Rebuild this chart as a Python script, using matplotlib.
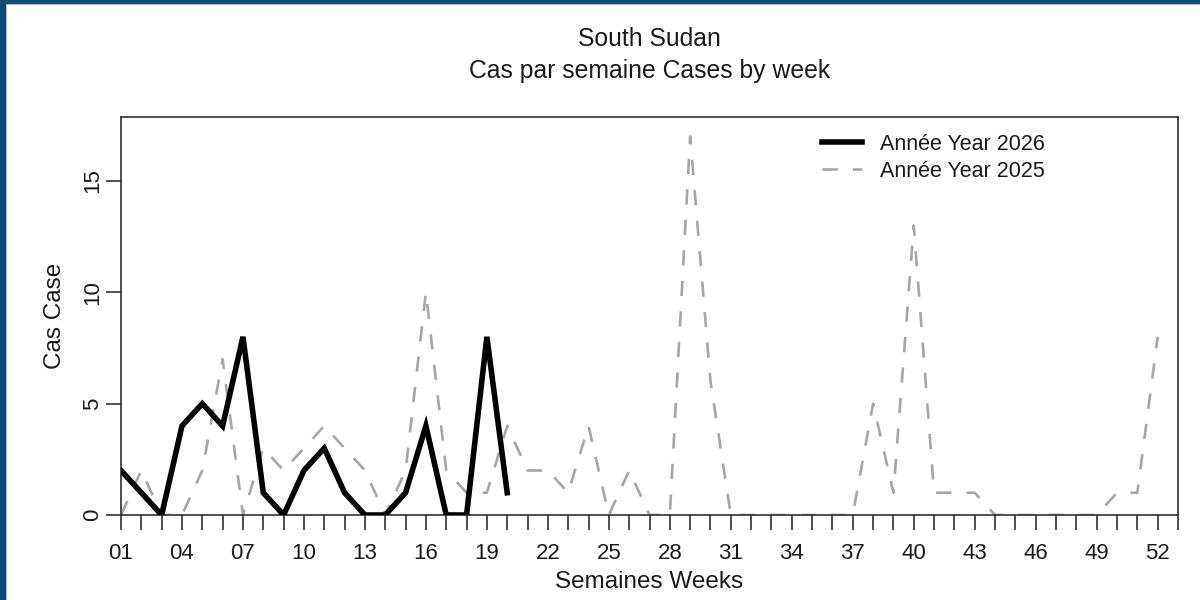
import matplotlib
matplotlib.use("Agg")
import matplotlib.pyplot as plt
from matplotlib.patches import Rectangle

plt.rcParams['font.family'] = ['Liberation Sans', 'DejaVu Sans']
plt.rcParams['lines.scale_dashes'] = False

# ---- data ----
weeks = list(range(1, 53))
weeks_2026 = list(range(1, 21))
cases_2026 = [2, 1, 0, 4, 5, 4, 8, 1, 0, 2, 3, 1, 0, 0, 1, 4, 0, 0, 8, 1]
cases_2025 = [0, 2, 0, 0, 2, 7, 0, 3, 2, 3, 4, 3, 2, 0, 2, 10, 2, 1, 1, 4,
              2, 2, 1, 4, 0, 2, 0, 0, 17, 6, 0, 0, 0, 0, 0, 0, 0, 5, 1, 13,
              1, 1, 1, 0, 0, 0, 0, 0, 0, 1, 1, 8]
xtick_weeks = list(range(1, 54))
xlabel_weeks = list(range(1, 53, 3))
ytick_vals = [0, 5, 10, 15]

title_1 = "South Sudan"
title_2 = "Cas par semaine Cases by week"
label_2026 = "Année Year 2026"
label_2025 = "Année Year 2025"
xlab = "Semaines Weeks"
ylab = "Cas Case"

W, H = 1200, 600
fig = plt.figure(figsize=(12, 6), dpi=100)
fig.patch.set_facecolor('white')

L, R, T, B = 121, 1178, 117, 515
ax = fig.add_axes([L / W, 1 - B / H, (R - L) / W, (B - T) / H])

axis_col = '#303030'
ax.plot(weeks, cases_2025, color='#a6a6a6', lw=1.9, dashes=(11, 11),
        label=label_2025, zorder=2)
ax.plot(weeks_2026, cases_2026, color='black', lw=4.0, solid_joinstyle='miter',
        label=label_2026, zorder=3)

ax.set_xlim(1, 53)
ax.set_ylim(0, 17.87)

ax.set_xticks(xtick_weeks)
ax.set_xticklabels([f"{w:02d}" if w in xlabel_weeks else "" for w in xtick_weeks])
ax.set_yticks(ytick_vals)
ax.set_yticklabels([str(v) for v in ytick_vals], rotation=90, va='center')

ax.tick_params(axis='x', direction='out', length=11, width=1.2, pad=9,
               labelsize=16, colors=axis_col, labelcolor='#1a1a1a')
ax.tick_params(axis='y', direction='out', length=10.5, width=1.2, pad=2.5,
               labelsize=16, colors=axis_col, labelcolor='#1a1a1a')
for s in ax.spines.values():
    s.set_color(axis_col)
    s.set_linewidth(1.2)

ax.set_xlabel(xlab, fontsize=17.5, color='#1a1a1a')
ax.xaxis.set_label_coords(0.5, (B - 582) / (B - T))
ax.xaxis.label.set_va('center')
ax.set_ylabel(ylab, fontsize=17.5, color='#1a1a1a')
ax.yaxis.set_label_coords((55 - L) / (R - L), 0.5)
ax.yaxis.label.set_va('center')

cx = (L + R) / 2 / W
fig.text(cx, 1 - 39 / H, title_1, ha='center', va='center', fontsize=17.8, color='#1a1a1a')
fig.text(cx, 1 - 71 / H, title_2, ha='center', va='center', fontsize=17.8, color='#1a1a1a')

handles, labels = ax.get_legend_handles_labels()
leg = ax.legend(handles[::-1], labels[::-1], loc='upper left',
                bbox_to_anchor=(822 / W, 1 - 134 / H), bbox_transform=fig.transFigure,
                frameon=False, fontsize=15.5, handlelength=1.86, handletextpad=0.84,
                labelspacing=0.28, borderaxespad=0, borderpad=0)
for t in leg.get_texts():
    t.set_color('#1a1a1a')

# window frame (dark blue border on top and left)
blue = '#0f4c75'
fig.patches.append(Rectangle((0, 0), 6 / W, 1, transform=fig.transFigure,
                             facecolor=blue, edgecolor='none', zorder=10))
fig.patches.append(Rectangle((0, 1 - 4 / H), 1, 4 / H, transform=fig.transFigure,
                             facecolor=blue, edgecolor='none', zorder=10))
fig.patches.append(Rectangle((6 / W, 0), 1.2 / W, 1 - 4 / H, transform=fig.transFigure,
                             facecolor='#b8b8b8', edgecolor='none', zorder=10))
fig.patches.append(Rectangle((6 / W, 1 - 5.2 / H), 1, 1.2 / H, transform=fig.transFigure,
                             facecolor='#b8b8b8', edgecolor='none', zorder=10))

fig.savefig('out.png', dpi=100)
